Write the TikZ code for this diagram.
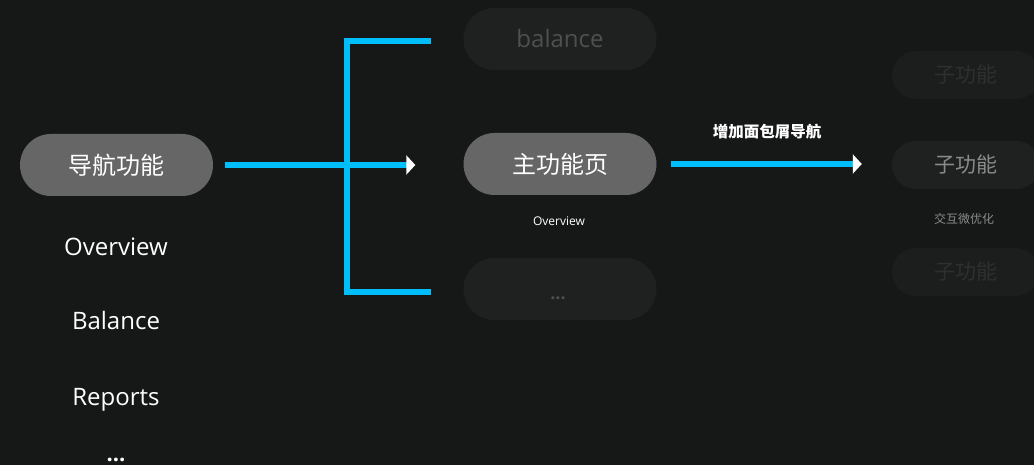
\documentclass[tikz,border=0pt]{standalone}
\usepackage{fontspec}
\setmainfont{Open Sans}
\newfontfamily\cjk{Noto Sans CJK SC}
\usetikzlibrary{arrows.meta}
\definecolor{bg}{RGB}{22,24,24}
\definecolor{pillgray}{RGB}{102,102,102}
\definecolor{dimfill}{RGB}{31,32,32}
\definecolor{faintfill}{RGB}{28,29,29}
\definecolor{dimtext}{RGB}{78,79,79}
\definecolor{fainttext}{RGB}{46,47,47}
\definecolor{subtext}{RGB}{138,138,138}
\definecolor{flowblue}{RGB}{0,190,250}
\tikzset{
  pill/.style={rectangle, rounded corners=31pt, minimum width=193pt, minimum height=62pt, inner sep=0pt},
  mainpill/.style={pill, fill=pillgray, text=white, font=\cjk\fontsize{24}{24}\selectfont},
  dimpill/.style={pill, fill=dimfill},
  subpill/.style={rectangle, rounded corners=24pt, minimum width=148pt, minimum height=48pt, inner sep=0pt, font=\cjk\fontsize{21}{21}\selectfont},
  listtext/.style={text=white, anchor=base, inner sep=0pt, font=\fontsize{24}{24}\selectfont},
  flow/.style={draw=flowblue, line width=6pt},
  flowarrow/.style={flow, -{Triangle[length=9pt,width=19pt,color=white]}},
}
\begin{document}
\begin{tikzpicture}[x=1pt,y=-1pt]
\useasboundingbox (0,0) rectangle (1034,465);
\fill[bg] (0,0) rectangle (1034,465);
\clip (0,0) rectangle (1034,465);

% left column
\node[mainpill] (nav) at (116.5,165) {导航功能};
\node[listtext] (ov) at (116,256) {Overview};
\node[listtext] (bal) at (116,330) {Balance};
\node[listtext] (rep) at (116,405) {Reports};
\node[listtext, font=\bfseries\fontsize{22}{22}\selectfont] (dots) at (116,461) {...};

% middle column
\node[dimpill, text=dimtext, font=\fontsize{24}{24}\selectfont] (balp) at (560,39) {balance};
\node[mainpill] (main) at (560,164) {主功能页};
\node[text=white, font=\fontsize{12}{12}\selectfont, inner sep=0pt] (ovs) at (559,221) {Overview};
\node[dimpill] (morep) at (560,289) {};
\node[text=dimtext, inner sep=0pt, font=\bfseries\fontsize{18}{18}\selectfont, anchor=base] (moredots) at (558,299) {...};

% right column
\node[subpill, fill=faintfill, text=fainttext] (sub1) at (966,75) {子功能};
\node[subpill, fill=dimfill, text=subtext] (sub2) at (966,165) {子功能};
\node[text=subtext, inner sep=0pt, font=\cjk\fontsize{12}{12}\selectfont] (subnote) at (964,219) {交互微优化};
\node[subpill, fill=faintfill, text=fainttext] (sub3) at (966,272) {子功能};

% bracket
\coordinate (btop) at (431,41);
\coordinate (bbot) at (431,292);
\coordinate (bx) at (347,41);
\coordinate (bxb) at (347,292);
\draw[flow, line join=miter] (btop) -- (bx) -- (bxb) -- (bbot);

% arrows
\draw[flowarrow, shorten <=12pt, shorten >=48pt] (nav.east) -- (main.west |- nav.east);
\draw[flowarrow, shorten <=14pt, shorten >=30pt] (main.east) -- (sub2.west |- main.east);
\node[text=white, inner sep=0pt, font=\cjk\bfseries\fontsize{15.5}{15.5}\selectfont] (lbl) at (767,132) {增加面包屑导航};
\end{tikzpicture}
\end{document}
